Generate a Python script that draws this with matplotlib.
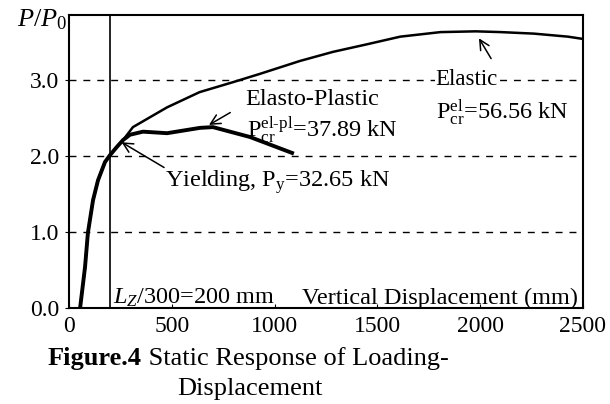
import matplotlib; matplotlib.use("Agg")
import matplotlib.pyplot as plt

plt.rcParams.update({"font.family": "Liberation Serif", "mathtext.fontset": "custom",
    "mathtext.rm": "Liberation Serif", "mathtext.it": "Liberation Serif:italic",
    "mathtext.bf": "Liberation Serif:bold", "font.size": 17.5})

# curves: displacement (mm) vs P/P0
EL_X = [54, 78, 92, 117, 141, 175, 199, 233, 263, 311, 477, 635, 796, 928, 1123, 1284, 1450, 1611, 1807, 1978, 2100, 2261, 2427, 2500]
EL_Y = [0, 0.54, 0.99, 1.42, 1.68, 1.92, 2.01, 2.12, 2.21, 2.38, 2.64, 2.84, 2.97, 3.08, 3.25, 3.37, 3.47, 3.57, 3.63, 3.64, 3.63, 3.61, 3.57, 3.54]
EP_X = [54, 78, 92, 117, 141, 175, 199, 233, 263, 297, 360, 477, 637, 700, 880, 1085]
EP_Y = [0, 0.54, 0.99, 1.42, 1.68, 1.92, 2.01, 2.12, 2.21, 2.28, 2.32, 2.30, 2.37, 2.38, 2.25, 2.04]
LIMIT_X = 200  # Lz/300
XTICKS = [0, 500, 1000, 1500, 2000, 2500]
YTICKS = [0.0, 1.0, 2.0, 3.0]
GRID_Y = [1.0, 2.0, 3.0]

fig = plt.figure(figsize=(6.1, 4.04), dpi=100)
ax = fig.add_axes([69/610, 1-308/404, 514/610, 293/404])
ax.set_xlim(0, 2500); ax.set_ylim(0, 3.855)

for g in GRID_Y:
    ax.axhline(g, color="k", lw=1, dashes=(5, 5), zorder=1)
ax.axvline(LIMIT_X, color="k", lw=1.2, zorder=2)
ax.plot(EL_X, EL_Y, color="k", lw=1.8, zorder=3)
ax.plot(EP_X, EP_Y, color="k", lw=2.8, zorder=3)

for s in ax.spines.values(): s.set_linewidth(1.5)
ax.set_xticks(XTICKS, [str(t) for t in XTICKS])
ax.set_yticks(YTICKS, [f"{t:.1f}" for t in YTICKS])
ax.tick_params(axis="x", direction="in", length=3, labelsize=17, pad=6)
ax.tick_params(axis="y", direction="out", length=3, labelsize=17, pad=4)

arr = dict(arrowstyle="->", color="k", lw=1.1)
ax.annotate("", xy=(1987, 3.58), xytext=(2060, 3.25), arrowprops=arr)
ax.annotate("", xy=(669, 2.39), xytext=(796, 2.59), arrowprops=arr)
ax.annotate("", xy=(244, 2.2), xytext=(474, 1.83), arrowprops=arr)

ax.text(1780, 3.0, "Elastic", va="center", fontsize=16.5, bbox=dict(fc="white", ec="none", pad=0))
ax.text(1785, 2.58, r"P$_{\rm cr}^{\rm el}$=56.56 kN", va="center")
ax.text(856, 2.74, "Elasto-Plastic", va="center")
ax.text(866, 2.34, r"P$_{\rm cr}^{\rm el\text{-}pl}$=37.89 kN", va="center")
ax.text(467, 1.66, r"Yielding, P$_{\rm y}$=32.65 kN", va="center")
ax.text(214, 0.13, r"$L_Z$/300=200 mm", va="center")
ax.text(2476, 0.13, "Vertical Displacement (mm)", va="center", ha="right")
fig.text(67/610, 1-20/404, r"$P/P_{\rm 0}$", ha="right", va="center", fontsize=19)

t1 = fig.text(48/610, 1-365/404, "Figure.4", weight="bold", va="baseline", fontsize=19)
ax.annotate(" Static Response of Loading-", xy=(1, 0), xycoords=t1, va="bottom", fontsize=19)
fig.text(250/610, 1-395/404, "Displacement", ha="center", va="baseline", fontsize=19)

fig.savefig("out.png", dpi=100)
